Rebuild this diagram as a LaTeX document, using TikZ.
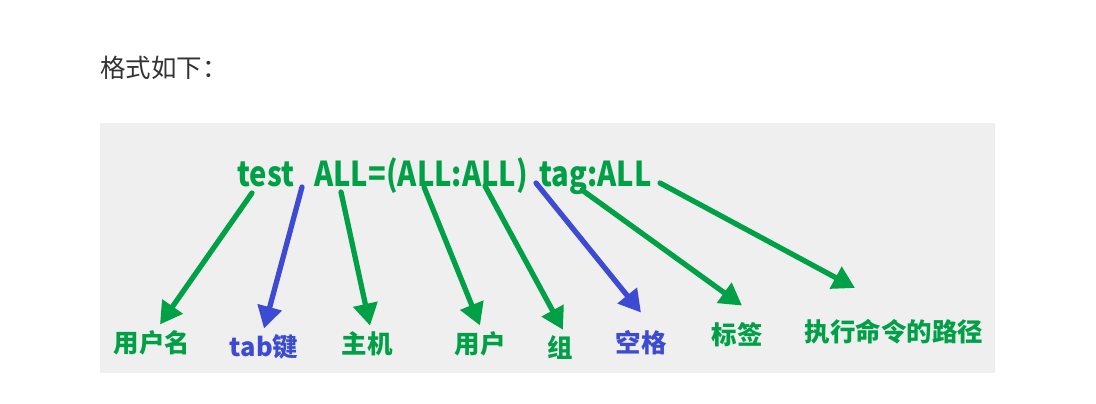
\documentclass[tikz,border=0pt]{standalone}
\usepackage{fontspec}
\setmainfont{Noto Sans CJK SC}
\usetikzlibrary{arrows.meta}
\definecolor{Leaf}{HTML}{00A046}
\definecolor{Ink}{HTML}{3C4BD2}
\definecolor{Panel}{HTML}{EFEFEF}
\definecolor{Heading}{HTML}{333333}
\newcommand{\narrow}[1]{\scalebox{0.85}[1]{#1}}

\begin{document}
\begin{tikzpicture}[x=0.02cm,y=-0.02cm,
  codetext/.style={anchor=base west,inner sep=0pt,text=Leaf,font=\fontsize{19.5}{22}\selectfont\bfseries},
  partlabel/.style={text=Leaf,font=\fontsize{14.5}{16}\selectfont\bfseries},
  sparelabel/.style={partlabel,text=Ink},
  arrg/.style={-{Triangle[length=0.44cm,width=0.48cm]},line width=3pt,line cap=round,color=Leaf},
  arrb/.style={arrg,color=Ink}]
  \useasboundingbox (0,0) rectangle (1096,403);
  \fill[white] (0,0) rectangle (1096,403);
  \fill[Panel] (100,123) rectangle (995,373);
  \node[text=Heading,font=\fontsize{14.5}{16}\selectfont] (title) at (164,68) {格式如下：};
  % the sudoers line
  \node[codetext] (test) at (237,186) {\narrow{test}};
  \node[codetext] (spec) at (314,186) {\narrow{ALL=(ALL:ALL)}};
  \node[codetext] (tagall) at (539,186) {\narrow{tag:ALL}};
  \coordinate (s1) at (252,193); \coordinate (s2) at (302,187); \coordinate (s3) at (341,192);
  \coordinate (s4) at (424,187); \coordinate (s5) at (485,186); \coordinate (s6) at (536,183);
  \coordinate (s7) at (582,190); \coordinate (s8) at (660,183);
  % what each part means
  \node[partlabel] (uname) at (152,343) {用户名};
  \node[sparelabel] (tabkey) at (264,347) {tab键};
  \node[partlabel] (host) at (367,344) {主机};
  \node[partlabel] (ruser) at (480,344) {用户};
  \node[partlabel] (rgroup) at (560,348) {组};
  \node[sparelabel] (space) at (641,343) {空格};
  \node[partlabel] (tagname) at (737,335) {标签};
  \node[partlabel] (cmdpath) at (894,332) {执行命令的路径};
  \coordinate (t8) at (855,288);
  \draw[arrg] (s1) -- ([xshift=0.16cm]uname.north); \draw[arrb] (s2) -- (tabkey.north);
  \draw[arrg] (s3) -- ([xshift=0.06cm]host.north); \draw[arrg] (s4) -- (ruser.north);
  \draw[arrg] (s5) -- ([xshift=0.06cm]rgroup.north); \draw[arrb] (s6) -- ([yshift=0.24cm]space.north);
  \draw[arrg] (s7) -- ([xshift=0.1cm,yshift=0.22cm]tagname.north); \draw[arrg] (s8) -- (t8);
\end{tikzpicture}
\end{document}
